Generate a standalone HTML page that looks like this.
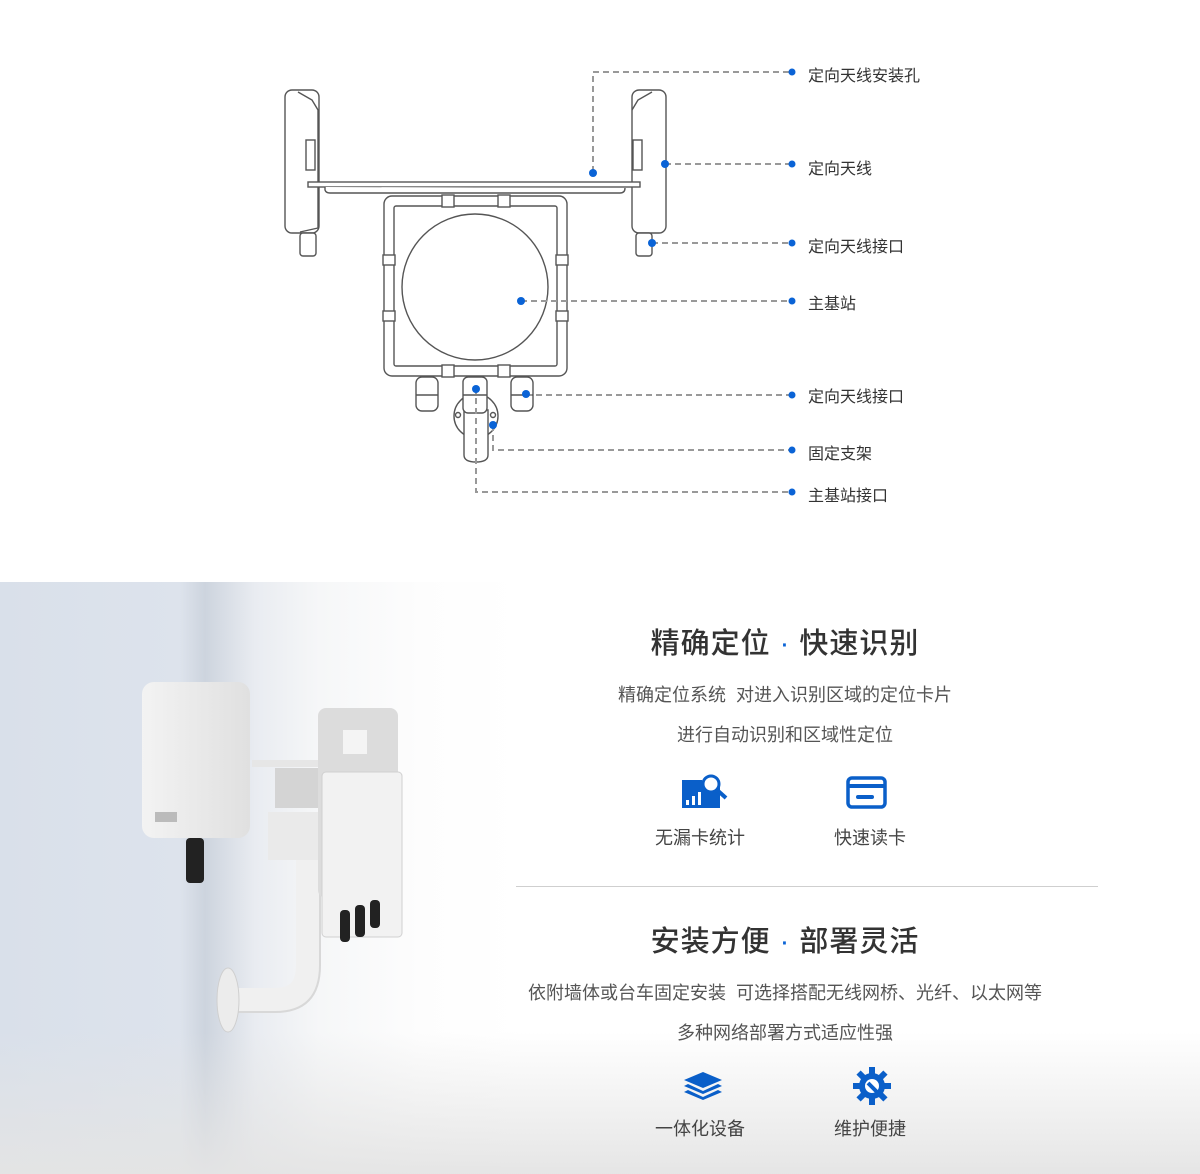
<!DOCTYPE html>
<html><head><meta charset="utf-8"><style>
html,body{margin:0;padding:0;}
body{width:1200px;height:1174px;position:relative;background:#fff;font-family:"Liberation Sans","Noto Sans CJK SC",sans-serif;overflow:hidden;}
.lbl{position:absolute;font-size:16px;color:#333;white-space:nowrap;}
.bot{position:absolute;left:0;top:582px;width:1200px;height:592px;
background:linear-gradient(180deg,rgba(255,255,255,0) 0%,rgba(255,255,255,0) 76%,rgba(228,228,228,0.95) 100%),
linear-gradient(90deg,#d9e0ea 0px,#dde3ec 180px,#cdd4de 205px,#e9ecf1 255px,#f6f7f8 320px,#fdfdfd 420px,#ffffff 520px);}
.t{position:absolute;white-space:nowrap;text-align:center;}
.h{font-size:29px;color:#333;letter-spacing:1px;font-weight:500;}
.p{font-size:18px;color:#555;}
.il{font-size:18px;color:#444;}
</style></head><body>
<svg width="1200" height="560" style="position:absolute;left:0;top:0" xmlns="http://www.w3.org/2000/svg">
<g fill="none" stroke="#555" stroke-width="1.4">
 <rect x="285" y="90" width="34" height="143" rx="7" fill="#fff"/>
 <path d="M298 92 L312 100 L318 110 L318 228 L300 232" />
 <rect x="306" y="140" width="9" height="30"/>
 <rect x="300" y="233" width="16" height="23" rx="3" fill="#fff"/>
 <rect x="632" y="90" width="34" height="143" rx="7" fill="#fff"/>
 <path d="M652 92 L638 100 L632 110"/>
 <rect x="633" y="140" width="9" height="30"/>
 <rect x="636" y="233" width="16" height="23" rx="3" fill="#fff"/>
 <rect x="308" y="182" width="332" height="5" fill="#fff"/>
 <path d="M325 187 L325 190 Q326 193 330 193 L620 193 Q625 193 625 188" fill="#fff"/>
 <rect x="384" y="196" width="183" height="180" rx="8" fill="#fff"/>
 <rect x="394" y="206" width="163" height="160" rx="2"/>
 <rect x="442" y="195" width="12" height="12" fill="#fff"/>
 <rect x="498" y="195" width="12" height="12" fill="#fff"/>
 <rect x="442" y="365" width="12" height="12" fill="#fff"/>
 <rect x="498" y="365" width="12" height="12" fill="#fff"/>
 <rect x="383" y="255" width="12" height="10" fill="#fff"/>
 <rect x="383" y="311" width="12" height="10" fill="#fff"/>
 <rect x="556" y="255" width="12" height="10" fill="#fff"/>
 <rect x="556" y="311" width="12" height="10" fill="#fff"/>
 <circle cx="475" cy="287" r="73" fill="#fff"/>
 <rect x="416" y="377" width="22" height="34" rx="6" fill="#fff"/>
 <line x1="416" y1="395" x2="438" y2="395"/>
 <rect x="511" y="377" width="22" height="34" rx="6" fill="#fff"/>
 <line x1="511" y1="395" x2="533" y2="395"/>
 <ellipse cx="476" cy="416" rx="22" ry="22" fill="#fff"/>
 <circle cx="458" cy="415" r="2.5"/><circle cx="493" cy="415" r="2.5"/>
 <path d="M464 410 L464 455 Q464 462 476 462 Q488 462 488 455 L488 410 Z" fill="#fff"/>
 <rect x="463" y="377" width="24" height="36" rx="5" fill="#fff"/>
 <line x1="463" y1="395" x2="487" y2="395"/>
</g>
<g fill="none" stroke="#999" stroke-width="2" stroke-dasharray="6,4">
 <path d="M593 172 V72 H792"/>
 <path d="M665 164 H792"/>
 <path d="M652 243 H792"/>
 <path d="M521 301 H792"/>
 <path d="M526 395 H792"/>
 <path d="M493 425 V450 H792"/>
 <path d="M476 388 V492 H792"/>
</g>
<g fill="#0a63d6">
 <circle cx="593" cy="173" r="4"/><circle cx="792" cy="72" r="3.5"/>
 <circle cx="665" cy="164" r="4"/><circle cx="792" cy="164" r="3.5"/>
 <circle cx="652" cy="243" r="4"/><circle cx="792" cy="243" r="3.5"/>
 <circle cx="521" cy="301" r="4"/><circle cx="792" cy="301" r="3.5"/>
 <circle cx="526" cy="394" r="4"/><circle cx="792" cy="395" r="3.5"/>
 <circle cx="493" cy="425" r="4"/><circle cx="792" cy="450" r="3.5"/>
 <circle cx="476" cy="389" r="4"/><circle cx="792" cy="492" r="3.5"/>
</g>
</svg>
<div class="lbl" style="left:808px;top:62px">定向天线安装孔</div>
<div class="lbl" style="left:808px;top:155px">定向天线</div>
<div class="lbl" style="left:808px;top:233px">定向天线接口</div>
<div class="lbl" style="left:808px;top:290px">主基站</div>
<div class="lbl" style="left:808px;top:383px">定向天线接口</div>
<div class="lbl" style="left:808px;top:440px">固定支架</div>
<div class="lbl" style="left:808px;top:482px">主基站接口</div>

<div class="bot"></div>
<svg width="500" height="594" style="position:absolute;left:0;top:580px" xmlns="http://www.w3.org/2000/svg">
 <defs><linearGradient id="w" x1="0" x2="1"><stop offset="0" stop-color="#f3f3f3"/><stop offset="1" stop-color="#e0e0e0"/></linearGradient></defs>
 <path d="M308 250 L308 385 Q308 420 275 420 L232 420" fill="none" stroke="#f0f0f0" stroke-width="24"/>
 <path d="M320 250 L320 385 Q320 432 275 432 L232 432" fill="none" stroke="#d8d8d8" stroke-width="2"/>
 <ellipse cx="228" cy="420" rx="11" ry="32" fill="#ececec" stroke="#cfcfcf"/>
 <rect x="268" y="232" width="56" height="48" fill="#eaeaea"/>
 <rect x="275" y="188" width="45" height="40" fill="#d4d4d4"/>
 <rect x="252" y="180" width="108" height="7" fill="#e6e6e6"/>
 <rect x="318" y="128" width="80" height="190" rx="8" fill="#dcdcdc"/>
 <rect x="343" y="150" width="24" height="24" fill="#f4f4f4"/>
 <rect x="322" y="192" width="80" height="165" rx="4" fill="#f2f2f2" stroke="#d0d0d0"/>
 <rect x="340" y="330" width="10" height="32" rx="4" fill="#222"/>
 <rect x="355" y="325" width="10" height="32" rx="4" fill="#222"/>
 <rect x="370" y="320" width="10" height="28" rx="4" fill="#222"/>
 <rect x="142" y="102" width="108" height="156" rx="12" fill="url(#w)"/>
 <rect x="155" y="232" width="22" height="10" fill="#bbb"/>
 <rect x="186" y="258" width="18" height="45" rx="4" fill="#222"/>
</svg>

<div class="t h" style="left:585px;width:400px;top:620px">精确定位 <span style="color:#0a63d6">·</span> 快速识别</div>
<div class="t p" style="left:535px;width:500px;top:681px">精确定位系统&nbsp;&nbsp;对进入识别区域的定位卡片</div>
<div class="t p" style="left:585px;width:400px;top:721px">进行自动识别和区域性定位</div>
<svg width="1200" height="120" style="position:absolute;left:0;top:770px" xmlns="http://www.w3.org/2000/svg">
 <g fill="#0a5fc9">
  <rect x="682" y="10" width="20" height="8"/>
  <rect x="682" y="16" width="38" height="22"/>
  <rect x="686" y="30" width="3" height="5" fill="#fff"/><rect x="692" y="26" width="3" height="9" fill="#fff"/><rect x="698" y="22" width="3" height="13" fill="#fff"/>
  <circle cx="711" cy="14" r="8" fill="#fff" stroke="#0a5fc9" stroke-width="3"/>
  <line x1="716" y1="19" x2="726" y2="28" stroke="#0a5fc9" stroke-width="4"/>
  <rect x="848" y="8" width="37" height="29" rx="4" fill="none" stroke="#0a5fc9" stroke-width="3.5"/>
  <rect x="848" y="14" width="37" height="4"/>
  <rect x="856" y="25" width="18" height="4" rx="2"/>
 </g>
</svg>
<div class="t il" style="left:640px;width:120px;top:824px">无漏卡统计</div>
<div class="t il" style="left:810px;width:120px;top:824px">快速读卡</div>
<div style="position:absolute;left:516px;top:886px;width:582px;height:1px;background:#cfcfcf"></div>
<div class="t h" style="left:585px;width:400px;top:918px">安装方便 <span style="color:#0a63d6">·</span> 部署灵活</div>
<div class="t p" style="left:435px;width:700px;top:979px">依附墙体或台车固定安装&nbsp;&nbsp;可选择搭配无线网桥、光纤、以太网等</div>
<div class="t p" style="left:585px;width:400px;top:1019px">多种网络部署方式适应性强</div>
<svg width="1200" height="50" style="position:absolute;left:0;top:1065px" xmlns="http://www.w3.org/2000/svg">
 <g fill="#0a5fc9">
  <path d="M684 15 L703 7 L722 15 L703 23 Z"/>
  <path d="M684 21 L688 19 L703 26 L718 19 L722 21 L703 29 Z"/>
  <path d="M684 27 L688 25 L703 32 L718 25 L722 27 L703 35 Z"/>
  <circle cx="872" cy="21" r="13"/>
  <g transform="translate(872 21)"><rect x="-3" y="-19" width="6" height="38"/><rect x="-19" y="-3" width="38" height="6"/>
  <rect x="-3" y="-19" width="6" height="38" transform="rotate(45)"/><rect x="-3" y="-19" width="6" height="38" transform="rotate(-45)"/></g>
  <circle cx="872" cy="21" r="7" fill="#fff"/>
  <line x1="868" y1="18" x2="881" y2="31" stroke="#0a5fc9" stroke-width="4"/>
 </g>
</svg>
<div class="t il" style="left:640px;width:120px;top:1115px">一体化设备</div>
<div class="t il" style="left:810px;width:120px;top:1115px">维护便捷</div>
</body></html>
